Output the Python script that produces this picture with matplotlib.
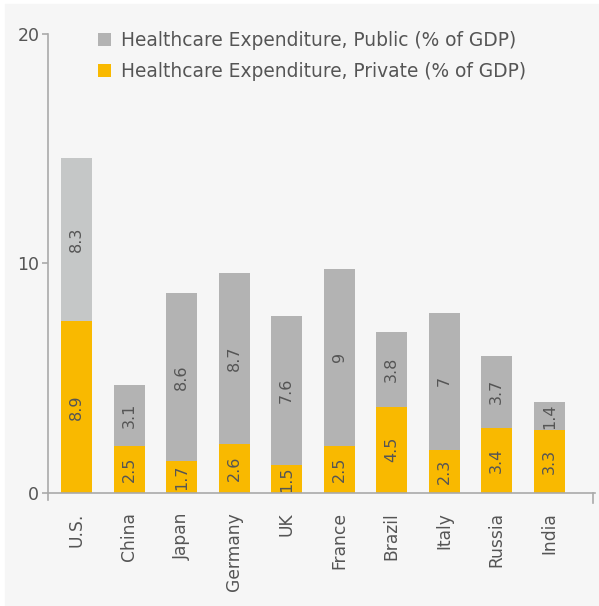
import matplotlib
matplotlib.use("Agg")
import matplotlib.pyplot as plt
import matplotlib.patches as mpatches
import numpy as np

countries = ["U.S.", "China", "Japan", "Germany", "UK", "France", "Brazil", "Italy", "Russia", "India"]
# bar heights as drawn in the reference
private_h = [7.48, 2.05, 1.38, 2.14, 1.21, 2.05, 3.74, 1.88, 2.84, 2.75]
public_h = [7.10, 2.64, 7.32, 7.44, 6.49, 7.70, 3.26, 5.95, 3.12, 1.20]
# value labels printed on the bars
private_lbl = ["8.9", "2.5", "1.7", "2.6", "1.5", "2.5", "4.5", "2.3", "3.4", "3.3"]
public_lbl = ["8.3", "3.1", "8.6", "8.7", "7.6", "9", "3.8", "7", "3.7", "1.4"]

orange = "#f9b900"
gray = "#b3b3b3"
txt = "#555555"
axis_c = "#aaaaaa"
public_colors = ["#c5c7c7"] + [gray] * 9

plt.rcParams["font.family"] = ["DejaVu Sans"]

fig = plt.figure(figsize=(5.99, 6.06), dpi=100, facecolor="white")
bg = mpatches.Rectangle((5 / 599, 0), 1, 1 - 4 / 606, transform=fig.transFigure,
                        color="#f6f6f6", zorder=-10)
fig.add_artist(bg)
ax = fig.add_axes([47.7 / 599, 1 - 492.7 / 606, (595 - 47.7) / 599, (492.7 - 34) / 606])
ax.set_facecolor("none")

x = np.arange(len(countries))
w = 0.59
b1 = ax.bar(x, private_h, w, color=orange, zorder=2)
b2 = ax.bar(x, public_h, w, bottom=private_h, color=public_colors, zorder=2)

for i in range(len(countries)):
    ax.text(x[i], private_h[i] / 2, private_lbl[i], rotation=90, ha="center", va="center",
            fontsize=11.5, color=txt, zorder=3)
    ax.text(x[i], private_h[i] + public_h[i] / 2, public_lbl[i], rotation=90, ha="center",
            va="center", fontsize=11.5, color=txt, zorder=3)

ax.set_xlim(-0.548, 9.87)
ax.set_ylim(0, 20)
ax.set_yticks([0, 10, 20])
ax.set_xticks(x)
ax.set_xticklabels(countries, rotation=90, fontsize=12.3, color=txt)
ax.tick_params(axis="x", length=0, pad=14)
ax.tick_params(axis="y", length=4, width=1.2, color=axis_c, labelsize=12.5, labelcolor=txt, pad=2)

for s in ["top", "right"]:
    ax.spines[s].set_visible(False)
for s in ["left", "bottom"]:
    ax.spines[s].set_color(axis_c)
    ax.spines[s].set_linewidth(1.2)
    ax.spines[s].set_zorder(3)

# small end ticks below the axis line
ax.plot([0, 0], [0, -0.016], transform=ax.transAxes, color=axis_c, lw=1.2, clip_on=False)
ax.plot([0.996, 0.996], [0, -0.022], transform=ax.transAxes, color=axis_c, lw=1.2, clip_on=False)

leg = fig.legend([b2[1], b1[0]],
                 ["Healthcare Expenditure, Public (% of GDP)",
                  "Healthcare Expenditure, Private (% of GDP)"],
                 loc="upper left", bbox_to_anchor=(98 / 599, 1 - 31 / 606), frameon=False,
                 fontsize=13.4, handlelength=0.7, handleheight=0.7, handletextpad=0.55,
                 labelspacing=0.62, borderpad=0, borderaxespad=0)
for t in leg.get_texts():
    t.set_color(txt)
leg.legend_handles[0].set_facecolor(gray)

fig.savefig("out.png", dpi=100, facecolor=fig.get_facecolor())
